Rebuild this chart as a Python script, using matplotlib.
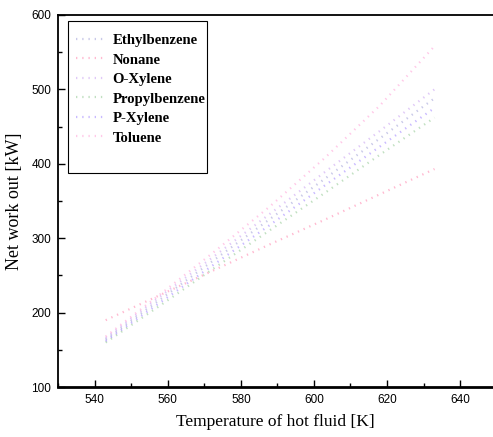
import numpy as np
import matplotlib
matplotlib.use('Agg')
import matplotlib.pyplot as plt
from matplotlib.ticker import MultipleLocator
from matplotlib.patches import Rectangle

# Data
temps = [543, 558, 573, 588, 603, 618, 633]
ethylbenzene = [164, 218, 272, 326, 380, 434, 488]
nonane = [190, 224, 258, 292, 325, 359, 393]
o_xylene = [166, 222, 277, 333, 389, 444, 500]
propylbenzene = [160, 210, 261, 311, 361, 412, 462]
p_xylene = [162, 214, 266, 318, 371, 423, 475]
toluene = [168, 225, 283, 343, 408, 478, 558]

names = ['Ethylbenzene', 'Nonane', 'O-Xylene', 'Propylbenzene', 'P-Xylene', 'Toluene']
series = [ethylbenzene, nonane, o_xylene, propylbenzene, p_xylene, toluene]
colors = ['#8888cc', '#ff6699', '#bb88ee', '#77bb77', '#8866ff', '#ff88cc']

fig = plt.figure(figsize=(4.93, 4.37), dpi=100)
ax = fig.add_axes([0.118, 0.114, 0.882, 0.852])

for name, vals, c in zip(names, series, colors):
    ax.plot(temps, vals, linestyle=(0, (0.6, 2.2)), color=c, lw=1.6, alpha=0.45, label=name)

ax.set_xlim(530, 649)
ax.set_ylim(100, 600)
ax.xaxis.set_major_locator(MultipleLocator(20))
ax.xaxis.set_minor_locator(MultipleLocator(10))
ax.yaxis.set_major_locator(MultipleLocator(100))
ax.yaxis.set_minor_locator(MultipleLocator(50))
ax.tick_params(which='both', direction='in', top=False, right=False)
ax.tick_params(which='major', length=5, width=1, labelsize=8.5, pad=5)
ax.tick_params(which='minor', length=3, width=1)
for lab in ax.get_xticklabels() + ax.get_yticklabels():
    lab.set_family('Liberation Sans')

ax.spines['bottom'].set_linewidth(2)
ax.spines['left'].set_linewidth(1.3)
ax.spines['top'].set_linewidth(1.3)
ax.spines['right'].set_visible(False)

ax.set_xlabel('Temperature of hot fluid [K]', family='Liberation Serif', fontsize=12.5, labelpad=6)
ax.set_ylabel('Net work out [kW]', family='Liberation Serif', fontsize=13, labelpad=6)

# legend frame drawn separately (it has extra room at the bottom)
ax.add_patch(Rectangle((0.023, 0.575), 0.320, 0.409, transform=ax.transAxes,
                       fill=False, edgecolor='black', lw=0.8, zorder=5))
leg = ax.legend(loc='upper left', prop={'family': 'Liberation Serif', 'weight': 'bold', 'size': 10.6},
                frameon=False, borderpad=0, borderaxespad=0,
                labelspacing=0.42, handlelength=1.9, handletextpad=0.6,
                bbox_to_anchor=(0.04, 0.949))

plt.savefig('out.png', dpi=100)
